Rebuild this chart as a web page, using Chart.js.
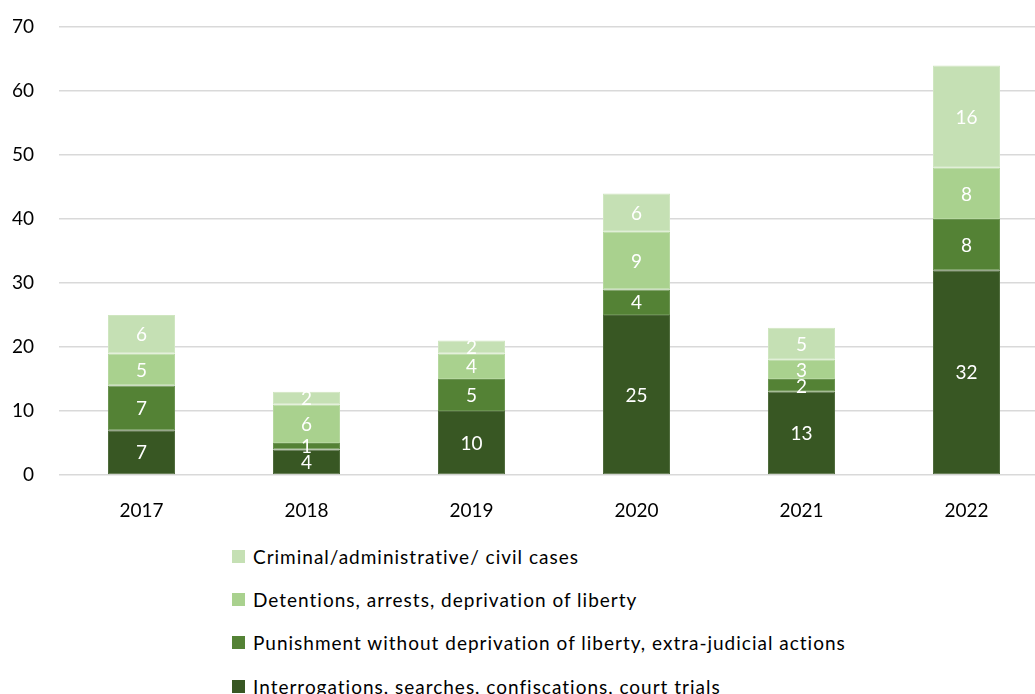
<!DOCTYPE html>
<html><head><meta charset="utf-8">
<script src="https://cdn.jsdelivr.net/npm/chart.js@4.4.0/dist/chart.umd.min.js"></script>
<style>
html,body{margin:0;padding:0;background:#fff;overflow:hidden;width:1035px;height:694px;}
#wrap{position:absolute;left:0;top:0;width:1049px;height:530px;}
#legend{position:absolute;left:0;top:0;font-family:Lato, 'Noto Sans', sans-serif;font-size:19px;letter-spacing:1px;color:#000;}
.item{position:absolute;left:232px;height:20px;display:flex;align-items:center;white-space:nowrap;}
.sw{width:13px;height:13px;margin-right:8px;flex:none;}
</style></head><body>
<div id="wrap"><canvas id="c" width="1049" height="530"></canvas></div>
<div id="legend"></div>
<script>
const categories = ['2017','2018','2019','2020','2021','2022'];
const interrogations = [7,4,10,25,13,32];
const punishment = [7,1,5,4,2,8];
const detentions = [5,6,4,9,3,8];
const criminal = [6,2,2,6,5,16];
const seriesNames = [
  'Interrogations, searches, confiscations, court trials',
  'Punishment without deprivation of liberty, extra-judicial actions',
  'Detentions, arrests, deprivation of liberty',
  'Criminal/administrative/ civil cases'
];
const seriesColors = ['#385723','#548235','#A9D18E','#C5E0B4'];
const seriesEdges = ['#4f6b3c','#6a9350','#b6d89f','#cfe6c0'];
const yTicks = [0,10,20,30,40,50,60,70];

const FONT = "Lato, 'Noto Sans', sans-serif";

const valueLabels = {
  id: 'valueLabels',
  afterDatasetsDraw(chart) {
    const ctx = chart.ctx;
    ctx.save();
    ctx.font = '19px ' + FONT;
    ctx.fillStyle = '#ffffff';
    ctx.textAlign = 'center';
    ctx.textBaseline = 'middle';
    chart.data.datasets.forEach((ds, i) => {
      const meta = chart.getDatasetMeta(i);
      meta.data.forEach((bar, j) => {
        const v = ds.data[j];
        if (!v) return;
        const p = bar.getProps(['x','y','base'], true);
        ctx.fillText(String(v), p.x, (p.y + p.base) / 2 + 1);
      });
    });
    ctx.restore();
  }
};

const seriesData = [interrogations, punishment, detentions, criminal];
const chart = new Chart(document.getElementById('c'), {
  type: 'bar',
  data: {
    labels: categories,
    datasets: seriesNames.map((n, i) => ({
      label: n,
      data: seriesData[i],
      backgroundColor: seriesColors[i],
      borderColor: seriesEdges[i],
      borderWidth: 1,
      borderSkipped: false,
      barPercentage: 0.406,
      categoryPercentage: 1.0
    }))
  },
  options: {
    responsive: false,
    animation: false,
    layout: { padding: { top: 27, left: 0, right: 0, bottom: 0 } },
    plugins: { legend: { display: false }, tooltip: { enabled: false } },
    scales: {
      x: {
        stacked: true,
        grid: { display: false },
        border: { display: false },
        ticks: { color: '#000', font: { family: FONT, size: 19 }, padding: 16 },
        afterFit(s) { s.height = 55; }
      },
      y: {
        stacked: true,
        min: 0, max: 70,
        afterBuildTicks(s) { s.ticks = yTicks.map(v => ({ value: v })); },
        grid: { color: '#d9d9d9', lineWidth: 1.5, drawTicks: true, tickLength: 25, tickColor: 'rgba(0,0,0,0)' },
        border: { display: false },
        ticks: { color: '#000', font: { family: FONT, size: 19 }, padding: 0 },
        afterFit(s) { s.width = 59; }
      }
    }
  },
  plugins: [valueLabels]
});

const legendEl = document.getElementById('legend');
const centers = [556, 599.5, 642.5, 686];
[3,2,1,0].forEach((idx, row) => {
  const it = document.createElement('div');
  it.className = 'item';
  it.style.top = (centers[row] - 10) + 'px';
  const sw = document.createElement('span');
  sw.className = 'sw';
  sw.style.background = seriesColors[idx];
  const tx = document.createElement('span');
  tx.textContent = seriesNames[idx];
  it.appendChild(sw); it.appendChild(tx);
  legendEl.appendChild(it);
});
</script>
</body></html>
